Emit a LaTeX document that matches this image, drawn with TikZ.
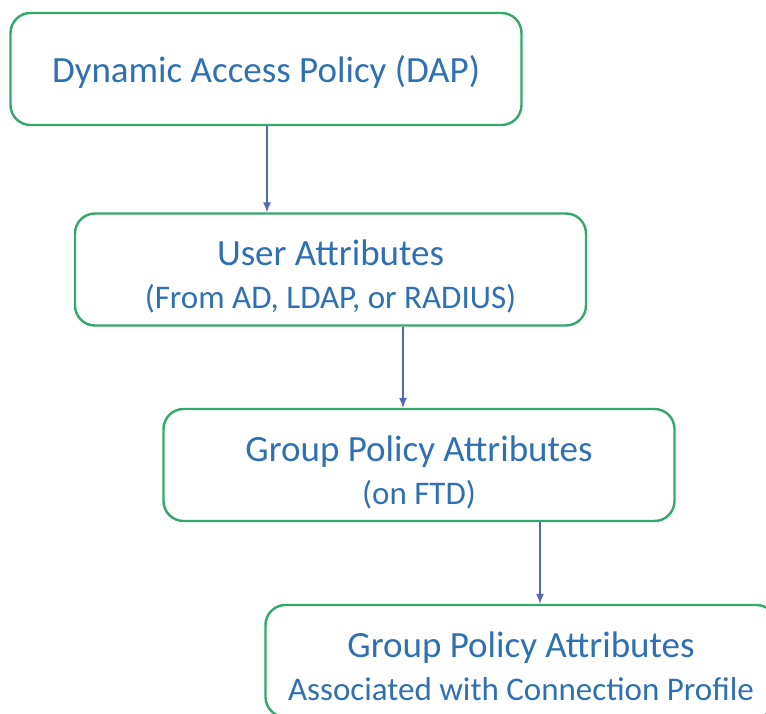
\documentclass[tikz,border=0pt]{standalone}
\usepackage{fontspec}
\setmainfont{Carlito}
\usetikzlibrary{arrows.meta}
\definecolor{boxgreen}{HTML}{33A86A}
\definecolor{txtblue}{HTML}{2F70B2}
\definecolor{arrblue}{HTML}{5468B4}
\newcommand{\bigline}{\fontsize{37}{43}\selectfont}
\newcommand{\subline}{\fontsize{33}{43}\selectfont}
\tikzset{
every node/.style={rectangle, rounded corners=20pt, draw=boxgreen, line width=2.4pt,
  minimum width=511pt, minimum height=112pt, text=txtblue, align=center, inner sep=0pt,
  text depth=0pt, font=\bigline},
twoline/.style={text height=78pt},
flow/.style={draw=arrblue, line width=1.2pt, -{Latex[length=10pt,width=8pt]}}
}

\begin{document}
\begin{tikzpicture}[x=1pt,y=1pt]
\useasboundingbox (0,0) rectangle (766,-714);

\node (dap)  at (266,-69)      {Dynamic Access Policy (DAP)};
\node[twoline] (user) at (330.5,-269.5) {User Attributes\\{\subline (From AD, LDAP, or RADIUS)}};
\node[twoline] (grp)  at (419,-465)     {Group Policy Attributes\\{\subline (on FTD)}};
\node[twoline] (prof) at (521,-661)     {Group Policy Attributes\\{\subline Associated with Connection Profile}};

\coordinate (c1) at (267,0);
\coordinate (c2) at (403,0);
\coordinate (c3) at (540,0);

\draw[flow] (dap.south -| c1) -- (user.north -| c1);
\draw[flow] (user.south -| c2) -- (grp.north -| c2);
\draw[flow] (grp.south -| c3) -- (prof.north -| c3);

\end{tikzpicture}
\end{document}
